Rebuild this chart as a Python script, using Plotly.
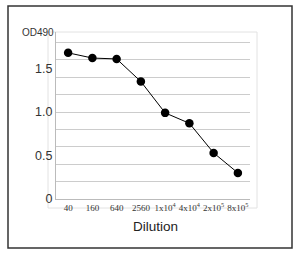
import plotly.graph_objects as go

dilutions = ["40", "160", "640", "2560", "1x10<sup>4</sup>", "4x10<sup>4</sup>", "2x10<sup>5</sup>", "8x10<sup>5</sup>"]
od490 = [1.68, 1.62, 1.61, 1.35, 0.99, 0.87, 0.53, 0.30]
y_ticks = [0, 0.5, 1.0, 1.5]
y_ticktext = ["0", "0.5", "1.0", "1.5"]

L, R, T, B = 56, 250, 32, 199
W, H = 300, 256
pw, ph = R - L, B - T

def px(x):
    return (x - L) / pw

def py(y):
    return (B - y) / ph

fig = go.Figure()
fig.add_trace(go.Scatter(
    x=list(range(len(dilutions))), y=od490, mode="lines+markers",
    line=dict(color="black", width=1),
    marker=dict(color="black", size=8.5),
    showlegend=False, hoverinfo="skip"))

fig.update_layout(
    width=W, height=H,
    margin=dict(l=L, r=W - R, t=T, b=H - B),
    paper_bgcolor="white", plot_bgcolor="white",
    xaxis=dict(
        range=[-0.5, 7.5], tickvals=list(range(len(dilutions))), ticktext=dilutions,
        showgrid=False, zeroline=False, showline=True, linecolor="#bbbbbb", linewidth=1,
        ticks="", tickangle=0, tickfont=dict(family="Liberation Serif", size=9, color="#333333"),
    ),
    yaxis=dict(
        range=[0, (B - T) / 87.0], tickvals=y_ticks, ticktext=y_ticktext,
        showgrid=False, zeroline=False, showline=True, linecolor="#bbbbbb", linewidth=1,
        ticks="", tickfont=dict(family="Liberation Sans", size=12.5, color="#333333"),
        minor=dict(dtick=0.2, tick0=0, showgrid=True, gridcolor="#cccccc", gridwidth=1, ticks=""),
    ),
    shapes=[
        dict(type="rect", xref="paper", yref="paper",
             x0=px(48), x1=px(257), y0=py(208), y1=py(32),
             line=dict(color="#e2e2e2", width=1), layer="below"),
        dict(type="rect", xref="paper", yref="paper",
             x0=px(8), x1=px(292), y0=py(248), y1=py(6),
             line=dict(color="#333333", width=1.5)),
    ],
    annotations=[
        dict(text="OD490", xref="paper", yref="paper", x=px(38), y=py(32),
             showarrow=False, font=dict(family="Liberation Sans", size=10, color="#333333"),
             xanchor="center", yanchor="middle"),
        dict(text="Dilution", xref="paper", yref="paper", x=px(155), y=py(226),
             showarrow=False, font=dict(family="Liberation Sans", size=13.5, color="#222222"),
             xanchor="center", yanchor="middle"),
    ],
)

fig.write_html("out.html")
